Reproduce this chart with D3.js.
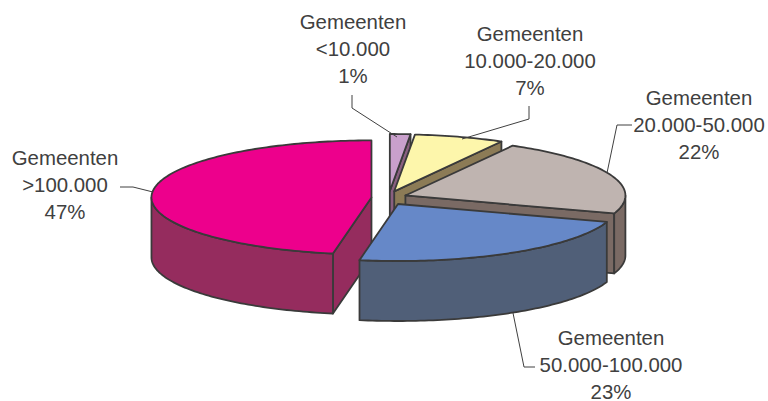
<!DOCTYPE html>
<html><head><meta charset="utf-8">
<script src="https://cdn.jsdelivr.net/npm/d3@7/dist/d3.min.js"></script>
<style>html,body{margin:0;padding:0;background:#fff;overflow:hidden}svg{display:block}text{font-family:"Liberation Sans",Arial,sans-serif;font-size:20.4px;fill:#404040}</style>
</head><body><svg id="c" width="768" height="401"></svg>
<script>
const categories = ["<10.000","10.000-20.000","20.000-50.000","50.000-100.000",">100.000"];
const shares = [1.5,6.6,22,22.7,47.2];
const percentLabels = ["1%","7%","22%","23%","47%"];
const topColors = ["#C9A0CC","#FDF6AB","#BFB4B0","#6688C8","#ED008C"];
const wallColors = ["#8A5F80","#8C7B56","#7A6A64","#505F78","#952C5E"];
const labelHead = "Gemeenten";

const W=768,H=401,cx=389,cy=198,rx=220,ry=57,depth=60,ex=17.6,ey=7;
const svg=d3.select("#c");
const X=d3.scaleLinear().domain([-1,1]).range([-rx,rx]);
const Y=d3.scaleLinear().domain([-1,1]).range([-ry,ry]);
const arcs=d3.pie().sort(null).value(d=>d)(shares);
const line=d3.line();
const stroke="#3a3a3a";
function sample(a0,a1){const n=Math.max(2,Math.ceil(Math.abs(a1-a0)/0.02));return d3.range(n+1).map(i=>a0+(a1-a0)*i/n);}

const order=[0,1,2,4,3];
order.forEach(i=>{
  const a=arcs[i],mid=(a.startAngle+a.endAngle)/2;
  const ox=cx+ex*Math.sin(mid),oy=cy-ey*Math.cos(mid);
  const P=(t,d=0)=>[ox+X(Math.sin(t)),oy+Y(-Math.cos(t))+d];
  const apex=[ox,oy],apexB=[ox,oy+depth];
  const g=svg.append("g");
  const shape=(pts)=>g.append("path").attr("d",line(pts)+"Z").attr("fill",wallColors[i]).attr("stroke",stroke).attr("stroke-width",1.8).attr("stroke-linejoin","round");
  if(a.endAngle<Math.PI*0.98) shape([apex,P(a.endAngle),P(a.endAngle,depth),apexB]);
  if(a.startAngle>Math.PI) shape([apex,P(a.startAngle),P(a.startAngle,depth),apexB]);
  const w0=Math.max(a.startAngle,Math.PI/2),w1=Math.min(a.endAngle,Math.PI*1.5);
  if(w1>w0){
    const s=sample(w0,w1);
    shape(s.map(t=>P(t)).concat(s.slice().reverse().map(t=>P(t,depth))));
  }
  g.append("path").attr("d",line([apex].concat(sample(a.startAngle,a.endAngle).map(t=>P(t))))+"Z")
    .attr("fill",topColors[i]).attr("stroke",stroke).attr("stroke-width",1.8).attr("stroke-linejoin","round");
});

const labelPos=[[353,29],[530,41],[699,105],[611,345],[65,165]];
const leaderPts=[
 [[352,95],[352,108],[397,137]],
 [[529,106],[529,119],[462,139]],
 [[632,125],[617,125],[607,173]],
 [[535,367],[524,367],[513,313]],
 [[120,187],[133,187],[153,192]]];
leaderPts.forEach(p=>svg.append("path").attr("d",line(p)).attr("fill","none").attr("stroke","#404040").attr("stroke-width",1));
categories.forEach((c,i)=>{
  const [x,y]=labelPos[i];
  [labelHead,c,percentLabels[i]].forEach((t,k)=>svg.append("text").attr("x",x).attr("y",y+k*27.2).attr("text-anchor","middle").text(t));
});
</script></body></html>
